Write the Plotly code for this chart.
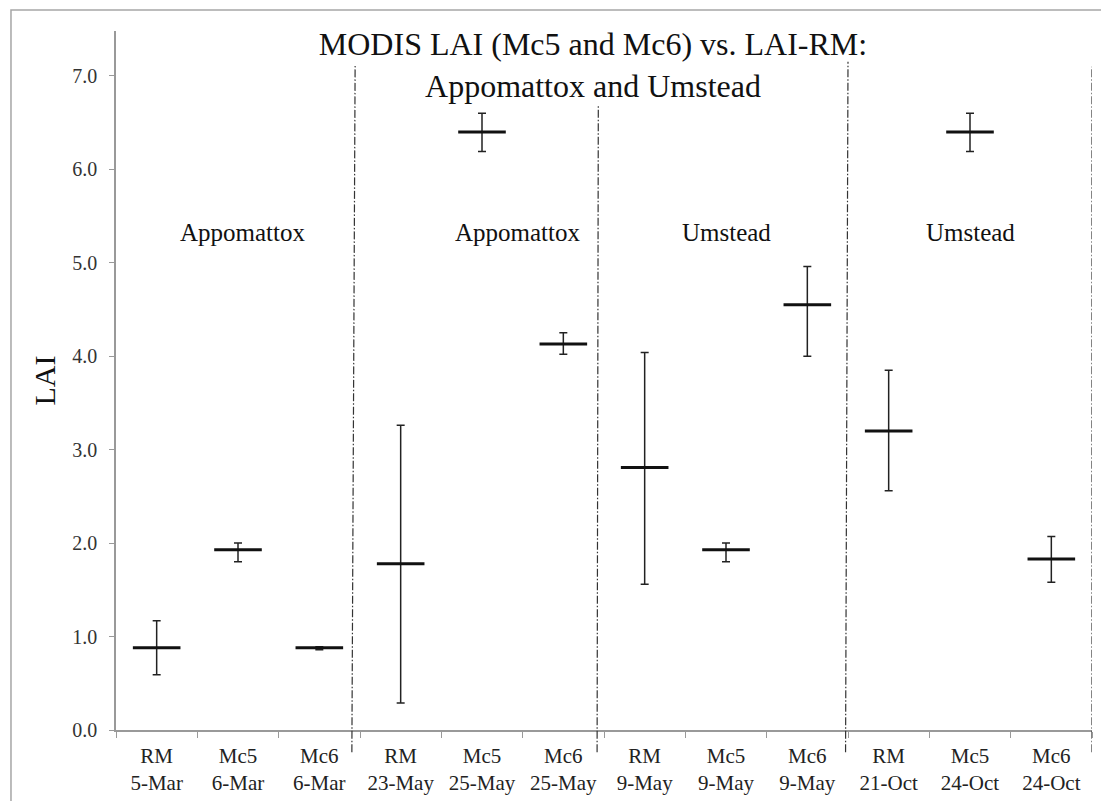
import plotly.graph_objects as go

# ---- data ----
categories = ["RM<br>5-Mar", "Mc5<br>6-Mar", "Mc6<br>6-Mar",
              "RM<br>23-May", "Mc5<br>25-May", "Mc6<br>25-May",
              "RM<br>9-May", "Mc5<br>9-May", "Mc6<br>9-May",
              "RM<br>21-Oct", "Mc5<br>24-Oct", "Mc6<br>24-Oct"]
lai_mean = [0.88, 1.93, 0.88, 1.78, 6.40, 4.13, 2.81, 1.93, 4.55, 3.20, 6.40, 1.83]
lai_upper = [1.17, 2.00, 0.89, 3.26, 6.60, 4.25, 4.04, 2.00, 4.96, 3.85, 6.60, 2.07]
lai_lower = [0.59, 1.80, 0.86, 0.29, 6.19, 4.02, 1.56, 1.80, 4.00, 2.56, 6.19, 1.58]
site_labels = ["Appomattox", "Appomattox", "Umstead", "Umstead"]
site_label_x = [1.06, 4.44, 7.0, 10.0]
site_label_y = 5.32
# group separators (category-index positions at bottom / top)
sep_x_bottom = [2.40, 5.415, 8.47, 11.5]
sep_x_top = [2.44, 5.43, 8.50, 11.5]
sep_y_top = [0.95, 0.893, 0.956, 0.949]
y_ticks = [0, 1, 2, 3, 4, 5, 6, 7]

FONT = "Liberation Serif, Times New Roman, serif"

err_plus = [u - m for u, m in zip(lai_upper, lai_mean)]
err_minus = [m - l for m, l in zip(lai_mean, lai_lower)]

fig = go.Figure()
fig.add_trace(go.Scatter(
    x=categories, y=lai_mean, mode="markers",
    marker=dict(symbol="line-ew", size=34, color="#111111",
                line=dict(width=3, color="#111111")),
    error_y=dict(type="data", symmetric=False, array=err_plus,
                 arrayminus=err_minus, thickness=1.5, width=4,
                 color="#222222"),
    showlegend=False, cliponaxis=False,
))

shapes = []
# outer frame
shapes.append(dict(type="rect", xref="paper", yref="paper",
                   x0=-0.1076, x1=1.05, y0=-0.2, y1=1.030,
                   line=dict(color="#a6a6a6", width=1.5), layer="below"))
for xb, xt, yt in zip(sep_x_bottom, sep_x_top, sep_y_top):
    shapes.append(dict(type="line", xref="x", yref="paper",
                       x0=xb, x1=xt, y0=-0.032, y1=yt,
                       line=dict(color="#333333", width=1.2,
                                 dash="8px,2px,1.5px,2px")))

annotations = []
for txt, ax in zip(site_labels, site_label_x):
    annotations.append(dict(text=txt, x=ax, y=site_label_y, xref="x", yref="y",
                            showarrow=False, font=dict(family=FONT, size=25, color="#111111")))

fig.update_layout(
    width=1101, height=801,
    margin=dict(l=116, r=9, t=31, b=71),
    paper_bgcolor="white", plot_bgcolor="white",
    font=dict(family=FONT, color="#222222"),
    title=dict(text="MODIS LAI (Mc5 and Mc6) vs. LAI-RM:<br>Appomattox and Umstead",
               font=dict(family=FONT, size=32, color="#111111"),
               x=0.5386, xref="container", xanchor="center",
               y=0.931, yref="container", yanchor="middle"),
    shapes=shapes, annotations=annotations,
    xaxis=dict(type="category", categoryorder="array", categoryarray=categories,
               range=[-0.5, 11.5], tickson="boundaries", ticks="outside",
               ticklen=6, tickcolor="#999999", tickwidth=1.3,
               showline=True, linecolor="#999999", linewidth=1.5,
               showgrid=False, zeroline=False, ticklabelstandoff=6,
               automargin=False,
               tickfont=dict(family=FONT, size=21, color="#222222")),
    yaxis=dict(range=[0, 7.48], tickvals=y_ticks, tickformat=".1f",
               ticks="outside", ticklen=5, tickcolor="#999999", tickwidth=1.3,
               showline=True, linecolor="#999999", linewidth=1.5,
               showgrid=False, zeroline=False, ticklabelstandoff=8,
               automargin=False,
               tickfont=dict(family=FONT, size=20, color="#333333"),
               title=dict(text="LAI", font=dict(family=FONT, size=30, color="#111111"),
                          standoff=8)),
)

fig.write_html("out.html")
